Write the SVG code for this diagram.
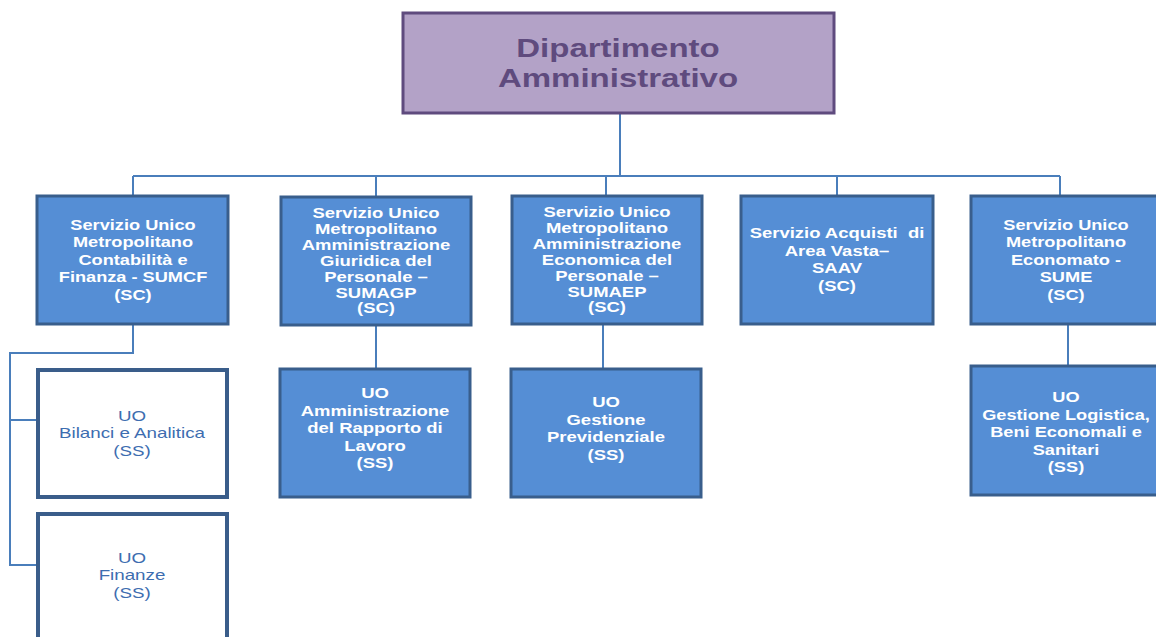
<svg xmlns="http://www.w3.org/2000/svg" width="1156" height="637" viewBox="0 0 1156 637">
<style>
.top{fill:#b3a2c7;stroke:#5f4b7e;stroke-width:3}
.sc{fill:#558ed5;stroke:#395e8c;stroke-width:3}
.ss{fill:#ffffff;stroke:#3a5d8a;stroke-width:4}
.tt{font-family:"Liberation Sans",Arial,sans-serif;font-weight:bold;font-size:26px;fill:#5f4b7e;text-anchor:middle}
.tw{font-family:"Liberation Sans",Arial,sans-serif;font-weight:bold;font-size:14px;fill:#ffffff;text-anchor:middle}
.tb{font-family:"Liberation Sans",Arial,sans-serif;font-size:14px;fill:#3d6db0;text-anchor:middle}
.conn{fill:none;stroke:#4a7ebb;stroke-width:2}
</style>
<rect width="1156" height="637" fill="#ffffff"/>
<g id="connectors" class="conn">
<path d="M620 113V176M133 176H1060M133 176V196M376 176V197M606 176V196M837 176V196M1060 176V196"/>
<path d="M133 324V353H10V565H37M10 420H37"/>
<path d="M376 325V369M603 324V369M1068 324V366"/>
</g>
<g id="dip">
<rect class="top" x="403" y="13" width="431" height="100"/>
<text class="tt" transform="matrix(1.27 0 0 1 618 0)"><tspan x="0" y="57">Dipartimento</tspan><tspan x="0" y="87">Amministrativo</tspan></text>
</g>
<g id="sumcf">
<rect class="sc" x="37" y="196" width="191" height="128"/>
<text class="tw" transform="matrix(1.3 0 0 1 133 0)"><tspan x="0" y="230">Servizio Unico</tspan><tspan x="0" y="247">Metropolitano</tspan><tspan x="0" y="265">Contabilità e</tspan><tspan x="0" y="282">Finanza - SUMCF</tspan><tspan x="0" y="300">(SC)</tspan></text>
</g>
<g id="sumagp">
<rect class="sc" x="281" y="197" width="190" height="128"/>
<text class="tw" transform="matrix(1.32 0 0 1 376 0)"><tspan x="0" y="218">Servizio Unico</tspan><tspan x="0" y="234">Metropolitano</tspan><tspan x="0" y="250">Amministrazione</tspan><tspan x="0" y="266">Giuridica del</tspan><tspan x="0" y="282">Personale –</tspan><tspan x="0" y="298">SUMAGP</tspan><tspan x="0" y="313">(SC)</tspan></text>
</g>
<g id="sumaep">
<rect class="sc" x="512" y="196" width="190" height="128"/>
<text class="tw" transform="matrix(1.32 0 0 1 607 0)"><tspan x="0" y="217">Servizio Unico</tspan><tspan x="0" y="233">Metropolitano</tspan><tspan x="0" y="249">Amministrazione</tspan><tspan x="0" y="265">Economica del</tspan><tspan x="0" y="281">Personale –</tspan><tspan x="0" y="297">SUMAEP</tspan><tspan x="0" y="312">(SC)</tspan></text>
</g>
<g id="saav">
<rect class="sc" x="741" y="196" width="192" height="128"/>
<text class="tw" transform="matrix(1.32 0 0 1 837 0)" style="white-space:pre"><tspan x="0" y="238">Servizio Acquisti  di</tspan><tspan x="0" y="256">Area Vasta–</tspan><tspan x="0" y="273">SAAV</tspan><tspan x="0" y="291">(SC)</tspan></text>
</g>
<g id="sume">
<rect class="sc" x="971" y="196" width="192" height="128"/>
<text class="tw" transform="matrix(1.3 0 0 1 1066 0)"><tspan x="0" y="230">Servizio Unico</tspan><tspan x="0" y="247">Metropolitano</tspan><tspan x="0" y="265">Economato -</tspan><tspan x="0" y="282">SUME</tspan><tspan x="0" y="300">(SC)</tspan></text>
</g>
<g id="bilanci">
<rect class="ss" x="38" y="370" width="189" height="127"/>
<text class="tb" transform="matrix(1.34 0 0 1 132 0)"><tspan x="0" y="421">UO</tspan><tspan x="0" y="438">Bilanci e Analitica</tspan><tspan x="0" y="456">(SS)</tspan></text>
</g>
<g id="finanze">
<rect class="ss" x="38" y="514" width="189" height="140"/>
<text class="tb" transform="matrix(1.34 0 0 1 132 0)"><tspan x="0" y="563">UO</tspan><tspan x="0" y="580">Finanze</tspan><tspan x="0" y="598">(SS)</tspan></text>
</g>
<g id="rapporto">
<rect class="sc" x="280" y="369" width="190" height="128"/>
<text class="tw" transform="matrix(1.32 0 0 1 375 0)"><tspan x="0" y="398">UO</tspan><tspan x="0" y="416">Amministrazione</tspan><tspan x="0" y="433">del Rapporto di</tspan><tspan x="0" y="451">Lavoro</tspan><tspan x="0" y="468">(SS)</tspan></text>
</g>
<g id="previdenziale">
<rect class="sc" x="511" y="369" width="190" height="128"/>
<text class="tw" transform="matrix(1.32 0 0 1 606 0)"><tspan x="0" y="407">UO</tspan><tspan x="0" y="425">Gestione</tspan><tspan x="0" y="442">Previdenziale</tspan><tspan x="0" y="460">(SS)</tspan></text>
</g>
<g id="logistica">
<rect class="sc" x="971" y="366" width="192" height="129"/>
<text class="tw" transform="matrix(1.3 0 0 1 1066 0)"><tspan x="0" y="402">UO</tspan><tspan x="0" y="420">Gestione Logistica,</tspan><tspan x="0" y="437">Beni Economali e</tspan><tspan x="0" y="455">Sanitari</tspan><tspan x="0" y="472">(SS)</tspan></text>
</g>
</svg>
